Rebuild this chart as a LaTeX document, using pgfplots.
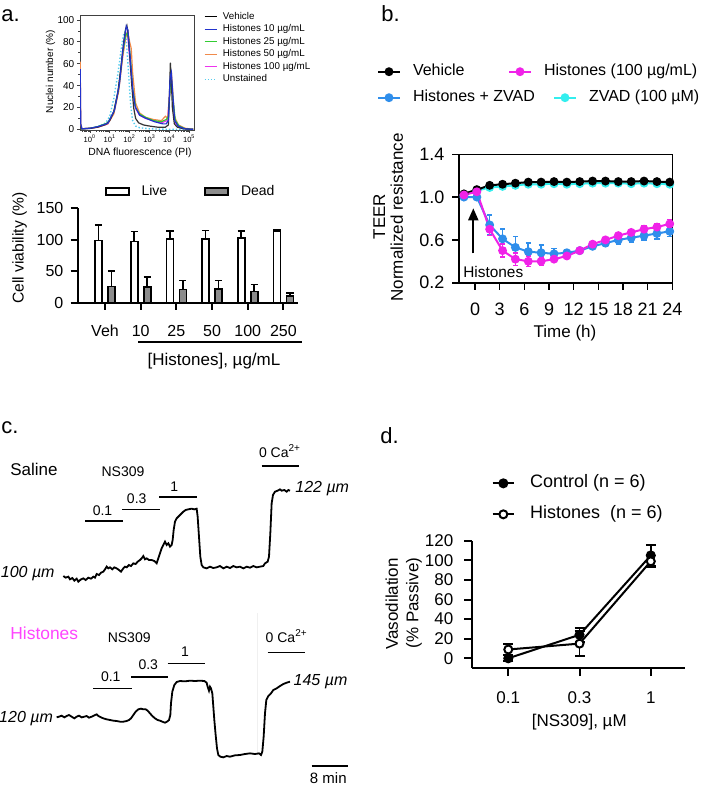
\documentclass[border=0pt]{standalone}
\usepackage{fontspec}
\setmainfont{Liberation Sans}
\usepackage{pgfplots}
\pgfplotsset{compat=1.18}
\usetikzlibrary{arrows.meta}

\definecolor{hblue}{HTML}{2233CC}
\definecolor{hgreen}{HTML}{33CC33}
\definecolor{horange}{HTML}{F08A4B}
\definecolor{hmag}{HTML}{EE33EE}
\definecolor{hcyan}{HTML}{55CCEE}
\definecolor{tmag}{HTML}{F022E8}
\definecolor{tblue}{HTML}{2F8EEB}
\definecolor{tcyan}{HTML}{33EEEE}
\definecolor{deadgray}{HTML}{8C8C8C}
\definecolor{cmag}{HTML}{FF44FF}

\newcommand{\fs}[1]{\fontsize{#1}{#1}\selectfont}

\pgfplotsset{
  boxleg/.style={legend image code/.code={\draw[##1] (0pt,-1.75pt) rectangle (11.5pt,1.75pt);}},
  legax/.style={hide axis, scale only axis, width=1pt, height=1pt,
    anchor=south west, xmin=0, xmax=1, ymin=0, ymax=1,
    legend style={at={(0,0)}, anchor=west, draw=none, fill=none,
      inner sep=0pt, outer sep=0pt, column sep=6pt, font=\fs{8},
      nodes={inner sep=0pt, text height=5.8pt, text depth=1.6pt}},
    legend image code/.code={\draw[mark repeat=2,mark phase=2,##1]
      plot coordinates {(0pt,0pt) (5.5pt,0pt) (11pt,0pt)};}},
  trace/.style={hide axis, scale only axis, anchor=north west, y dir=reverse,
    xmin=0, xmax=780, ymin=0, clip=false},
}

\begin{document}
\begin{tikzpicture}
\begin{scope}[x=0.5pt,y=-0.5pt]
\path[use as bounding box] (0,0) rectangle (709,787);
\coordinate (hSW) at (80,130);
\coordinate (bSW) at (77.7,302.7);
\coordinate (tSW) at (459,282.7);
\coordinate (dSW) at (472.3,668.1);
\coordinate (sNW) at (55,450);
\coordinate (xNW) at (55,620);
\coordinate (L1) at (377,71.7);
\coordinate (L2) at (508,71.7);
\coordinate (L3) at (377,97.7);
\coordinate (L4) at (553,97.7);

% panel a
\node[anchor=base west, inner sep=0pt, font=\fs{11}] at (1,21) {a.};
\node[rotate=90, inner sep=0pt, font=\fs{5}] at (50.5,71.7) {Nuclei number (\%)};
\node[inner sep=0pt, font=\fs{5.2}] at (140,152.5) {DNA fluorescence (PI)};
\node[rotate=90, inner sep=0pt, font=\fs{7.8}] at (19.5,248) {Cell viability (\%)};
\draw[line width=0.8pt] (138,341.7) -- (302,341.7);
\node[anchor=base, inner sep=0pt, font=\fs{8.5}] at (214,365) {[Histones], µg/mL};

% panel b
\node[anchor=base west, inner sep=0pt, font=\fs{11}] at (381,21.7) {b.};
\node[rotate=90, inner sep=0pt, font=\fs{8.5}] at (379.3,216.7) {TEER};
\node[rotate=90, inner sep=0pt, font=\fs{8.5}] at (396.7,217.3) {Normalized resistance};
\node[anchor=base, inner sep=0pt, font=\fs{8.5}] at (565,337) {Time (h)};
\draw[line width=1pt, -{Triangle[width=5pt,length=6pt]}] (473.3,253.3) -- (473.3,208.3);
\node[inner sep=0pt, font=\fs{7.7}] at (493.3,271.7) {Histones};

% panel c
\node[anchor=base west, inner sep=0pt, font=\fs{11}] at (1,433.3) {c.};
\node[anchor=base west, inner sep=0pt, font=\fs{8.5}] at (10,475) {Saline};
\node[anchor=base, inner sep=0pt, font=\fs{7}] at (123,476) {NS309};
\node[anchor=base, inner sep=0pt, font=\fs{7}] at (102.5,515) {0.1};
\node[anchor=base, inner sep=0pt, font=\fs{7}] at (136.7,503.3) {0.3};
\node[anchor=base, inner sep=0pt, font=\fs{7}] at (174.2,491) {1};
\node[anchor=base, inner sep=0pt, font=\fs{7}] at (280,457.7) {0 Ca\textsuperscript{2+}};
\draw[line width=0.8pt] (85,521) -- (123.3,521);
\draw[line width=0.8pt] (122.3,509.3) -- (160,509.3);
\draw[line width=0.8pt] (159,496.7) -- (196.7,496.7);
\draw[line width=0.8pt] (261.7,465.7) -- (299.3,465.7);
\node[anchor=base west, inner sep=0pt, font=\fs{8}\itshape] at (295,492.7) {122 µm};
\node[anchor=base east, inner sep=0pt, font=\fs{8}\itshape] at (55,577.3) {100 µm};

\node[anchor=base west, inner sep=0pt, font=\fs{8.7}, text=cmag] at (10,639.3) {Histones};
\node[anchor=base, inner sep=0pt, font=\fs{7}] at (129.2,642.7) {NS309};
\node[anchor=base, inner sep=0pt, font=\fs{7}] at (110.8,681.7) {0.1};
\node[anchor=base, inner sep=0pt, font=\fs{7}] at (148.3,669.3) {0.3};
\node[anchor=base, inner sep=0pt, font=\fs{7}] at (185,656.7) {1};
\node[anchor=base, inner sep=0pt, font=\fs{7}] at (286.7,642.7) {0 Ca\textsuperscript{2+}};
\draw[line width=0.8pt] (93.3,688.3) -- (131.7,688.3);
\draw[line width=0.8pt] (131,676.7) -- (168.3,676.7);
\draw[line width=0.8pt] (167.7,663.3) -- (205,663.3);
\draw[line width=0.8pt] (267.7,652.3) -- (305,652.3);
\draw[black!6, line width=0.4pt] (257,613) -- (257,755);
\node[anchor=base west, inner sep=0pt, font=\fs{8}\itshape] at (293.3,685.7) {145 µm};
\node[anchor=base east, inner sep=0pt, font=\fs{8}\itshape] at (53.3,722.3) {120 µm};
\draw[line width=1pt] (311.7,766) -- (348.3,766);
\node[anchor=base, inner sep=0pt, font=\fs{7.5}] at (328.3,783.3) {8 min};

% panel d
\node[anchor=base west, inner sep=0pt, font=\fs{11}] at (380,443.3) {d.};
\node[rotate=90, inner sep=0pt, font=\fs{8.5}] at (391.7,604) {Vasodilation};
\node[rotate=90, inner sep=0pt, font=\fs{8.5}] at (414,603) {(\% Passive)};
\node[anchor=base, inner sep=0pt, font=\fs{8.5}] at (579.3,726) {[NS309], µM};
\end{scope}

% ---- a: DNA histogram
\begin{axis}[at={(hSW)}, anchor=south west, scale only axis,
  width=57.5pt, height=57.5pt,
  xmin=-0.5, xmax=5.29, ymin=-0.6, ymax=104.6,
  axis line style={line width=0.5pt, black!75},
  tick align=outside, tick pos=left,
  major tick length=1.3pt, minor tick length=0.8pt,
  tick style={line width=0.4pt, black!75},
  xtick={0,1,2,3,4,5},
  xticklabels={10\textsuperscript{0},10\textsuperscript{1},10\textsuperscript{2},10\textsuperscript{3},10\textsuperscript{4},10\textsuperscript{5}},
  minor xtick={-0.398,-0.301,-0.222,-0.155,-0.097,-0.046,
    0.301,0.477,0.602,0.699,0.778,0.845,0.903,0.954,
    1.301,1.477,1.602,1.699,1.778,1.845,1.903,1.954,
    2.301,2.477,2.602,2.699,2.778,2.845,2.903,2.954,
    3.301,3.477,3.602,3.699,3.778,3.845,3.903,3.954,
    4.301,4.477,4.602,4.699,4.778,4.845,4.903,4.954},
  ytick={0,20,40,60,80,100}, minor ytick={10,30,50,70,90},
  yticklabel style={font=\fs{5}, anchor=east, inner sep=0pt, xshift=-1.4pt},
  xticklabel style={font=\fs{3.8}, anchor=base, yshift=-5pt, inner sep=0pt},
  /pgf/number format/assume math mode=true,
  legend style={at={(1.078,1.024)}, anchor=north west, draw=none, fill=none,
    inner sep=0pt, outer sep=0pt, font=\fs{4.9}, row sep=1.75pt, column sep=2.85pt,
    nodes={inner sep=0pt, text height=3.5pt, text depth=1pt}},
  legend cell align=left,
  legend image code/.code={\draw[#1] (0pt,0pt) -- (6pt,0pt);},
]
\addplot[hcyan, densely dotted, line width=0.7pt, forget plot] coordinates {
(-0.45,0) (0,1) (0.4,2.5) (0.8,6) (1.0,12) (1.2,28) (1.4,50) (1.55,70) (1.68,86) (1.76,89)
(1.84,80) (1.95,50) (2.05,22) (2.15,8) (2.3,3) (2.5,1.5) (3.0,0.5) (4.0,0) (5.2,0)};
\addplot[hmag, line width=0.6pt, forget plot] coordinates {
(-0.45,0.5) (0,1) (0.4,2) (0.9,5) (1.2,15) (1.45,38) (1.65,68) (1.82,88) (1.9,86) (2.02,62)
(2.15,36) (2.3,19) (2.5,13) (2.8,10) (3.2,8) (3.6,6) (3.9,8) (4.03,35) (4.1,42) (4.18,25)
(4.3,6) (4.5,2) (4.8,0.5) (5.2,0)};
\addplot[horange, line width=0.6pt, forget plot] coordinates {
(-0.49,62) (-0.46,5) (-0.4,0.5) (0,1) (0.4,2) (0.9,5) (1.2,14) (1.45,35) (1.65,66) (1.8,84)
(1.9,90) (2.0,80) (2.08,74) (2.15,52) (2.3,24) (2.5,15) (2.8,11) (3.2,9) (3.6,8) (3.8,12)
(3.92,10) (4.0,30) (4.1,53) (4.17,35) (4.25,12) (4.45,4) (4.8,1) (5.2,0)};
\addplot[hgreen, line width=0.6pt, forget plot] coordinates {
(-0.45,0.5) (0,1) (0.4,2.5) (0.9,6) (1.2,16) (1.45,38) (1.65,70) (1.8,86) (1.88,88) (1.95,82)
(2.05,62) (2.15,38) (2.3,20) (2.5,14) (2.8,11) (3.2,8) (3.6,7) (3.85,9) (3.95,12) (4.05,40)
(4.1,46) (4.18,28) (4.3,8) (4.5,3) (4.8,0.5) (5.2,0)};
\addplot[black!80, line width=0.6pt, forget plot] coordinates {
(-0.45,0.5) (0,0.8) (0.4,2) (0.8,4.5) (1.0,8) (1.2,16) (1.4,33) (1.55,55) (1.7,80) (1.8,92)
(1.86,95) (1.92,88) (2.0,68) (2.1,42) (2.2,20) (2.3,10) (2.45,6) (2.7,4) (3.0,3) (3.4,2)
(3.8,2) (3.95,4) (4.0,30) (4.05,61) (4.1,45) (4.15,20) (4.25,5) (4.4,2) (4.7,0.5) (5.2,0)};
\addplot[hblue, line width=0.6pt, forget plot] coordinates {
(-0.49,55) (-0.46,5) (-0.4,0.5) (0,1) (0.4,2.5) (0.9,5.5) (1.24,17.7) (1.49,42) (1.66,72.5)
(1.83,94.5) (1.91,91) (2.04,63) (2.16,36) (2.28,20.7) (2.5,13) (2.83,10) (3.25,7) (3.67,5)
(3.84,5) (3.95,8) (4.04,48) (4.1,52) (4.18,30) (4.27,8) (4.44,3) (4.77,0.5) (5.2,0)};
\addlegendimage{black, line width=0.6pt}\addlegendentry{Vehicle}
\addlegendimage{hblue, line width=0.6pt}\addlegendentry{Histones 10 µg/mL}
\addlegendimage{hgreen, line width=0.6pt}\addlegendentry{Histones 25 µg/mL}
\addlegendimage{horange, line width=0.6pt}\addlegendentry{Histones 50 µg/mL}
\addlegendimage{hmag, line width=0.6pt}\addlegendentry{Histones 100 µg/mL}
\addlegendimage{hcyan, densely dotted, line width=0.6pt}\addlegendentry{Unstained}
\end{axis}

% ---- a: viability bars (live at group-0.182, dead at group+0.182)
\begin{axis}[at={(bSW)}, anchor=south west, scale only axis,
  width=110pt, height=47.2pt,
  xmin=-0.766, xmax=5.40, ymin=0, ymax=150,
  axis lines*=left, axis line style={line width=1pt, -},
  tick align=outside, major tick length=3.5pt,
  tick style={line width=1pt, black},
  xtick={0,1,2,3,4,5}, xticklabels={Veh,10,25,50,100,250},
  ytick={0,50,100,150},
  tick label style={font=\fs{8}},
  xticklabel style={anchor=base, yshift=-13.2pt},
  yticklabel style={anchor=east, inner sep=0pt, xshift=-3.5pt},
  /pgf/number format/assume math mode=true,
  legend style={at={(0.124,1.176)}, anchor=west, draw=none, fill=none,
    inner sep=0pt, outer sep=0pt, font=\fs{7}, column sep=6pt,
    /tikz/every even column/.append style={column sep=18.6pt},
    nodes={inner sep=0pt, text height=5pt, text depth=1.4pt}},
  legend columns=2,
]
\addplot[ybar, bar width=3.5pt, bar shift=0pt, fill=white, draw=black, line width=0.8pt, boxleg,
  error bars/.cd, y dir=plus, y explicit,
  error bar style={line width=0.8pt, black},
  error mark options={rotate=90, mark size=1.8pt, line width=0.8pt, black}]
  coordinates {(-0.182,99) +- (0,24) (0.818,97) +- (0,16) (1.818,101) +- (0,13)
    (2.818,101) +- (0,14) (3.818,103) +- (0,11) (4.818,113) +- (0,3)};
\addlegendentry{Live}
\addplot[ybar, bar width=3.5pt, bar shift=0pt, fill=deadgray, draw=black, line width=0.8pt, boxleg,
  error bars/.cd, y dir=plus, y explicit,
  error bar style={line width=0.8pt, black},
  error mark options={rotate=90, mark size=1.8pt, line width=0.8pt, black}]
  coordinates {(0.182,26) +- (0,24) (1.182,25) +- (0,16) (2.182,21) +- (0,14)
    (3.182,22) +- (0,13) (4.182,18) +- (0,11) (5.182,11) +- (0,4)};
\addlegendentry{Dead}
\end{axis}

% ---- b: TEER
\begin{axis}[at={(tSW)}, anchor=south west, scale only axis,
  width=106.65pt, height=64.2pt,
  xmin=-1.95, xmax=24, ymin=0.2, ymax=1.4,
  axis line style={line width=0.8pt},
  tick align=outside, tick pos=left, major tick length=3.5pt,
  tick style={line width=0.8pt, black},
  xtick={0,3,...,24}, ytick={0.2,0.6,1.0,1.4}, yticklabels={0.2,0.6,1.0,1.4},
  tick label style={font=\fs{9}},
  xticklabel style={anchor=base, yshift=-12.8pt},
  yticklabel style={anchor=east, inner sep=0pt, xshift=-3.65pt},
  /pgf/number format/assume math mode=true,
  clip=false,
]
\addplot[tcyan, line width=1pt, mark=*, mark size=1.7pt] table {
t v
-1.35 1.02
0.22 1.06
1.78 1.09
3.35 1.10
4.91 1.11
6.48 1.12
8.04 1.12
9.61 1.125
11.17 1.12
12.74 1.125
14.30 1.13
15.87 1.13
17.43 1.13
19.00 1.125
20.56 1.13
22.13 1.125
23.69 1.12
};
\addplot[black, line width=1pt, mark=*, mark size=1.7pt] table {
t v
-1.35 1.03
0.22 1.07
1.78 1.11
3.35 1.12
4.91 1.13
6.48 1.14
8.04 1.14
9.61 1.145
11.17 1.14
12.74 1.145
14.30 1.15
15.87 1.15
17.43 1.145
19.00 1.145
20.56 1.15
22.13 1.145
23.69 1.14
};
\addplot[tblue, line width=1pt, mark=*, mark size=1.7pt,
  error bars/.cd, y dir=both, y explicit,
  error bar style={line width=0.8pt},
  error mark options={rotate=90, mark size=1.3pt, line width=0.8pt}]
  table[x=t, y=v, y error=e] {
t v e
-1.35 1.00 0.01
0.22 1.00 0.01
1.78 0.74 0.09
3.35 0.61 0.09
4.91 0.53 0.10
6.48 0.49 0.08
8.04 0.48 0.07
9.61 0.47 0.05
11.17 0.48 0.03
12.74 0.50 0.02
14.30 0.54 0.02
15.87 0.57 0.03
17.43 0.60 0.04
19.00 0.62 0.04
20.56 0.64 0.04
22.13 0.66 0.05
23.69 0.68 0.05
};
\addplot[tmag, line width=1pt, mark=*, mark size=1.7pt,
  error bars/.cd, y dir=both, y explicit,
  error bar style={line width=0.8pt},
  error mark options={rotate=90, mark size=1.3pt, line width=0.8pt}]
  table[x=t, y=v, y error=e] {
t v e
-1.35 1.02 0.01
0.22 1.05 0.01
1.78 0.70 0.06
3.35 0.50 0.06
4.91 0.42 0.06
6.48 0.40 0.05
8.04 0.40 0.04
9.61 0.42 0.02
11.17 0.45 0.02
12.74 0.50 0.02
14.30 0.56 0.02
15.87 0.60 0.02
17.43 0.64 0.02
19.00 0.67 0.02
20.56 0.70 0.03
22.13 0.72 0.03
23.69 0.75 0.04
};
\end{axis}

\begin{axis}[legax, at={(L1)}]
\addlegendimage{black, line width=1pt, mark=*, mark size=1.7pt}
\addlegendentry{Vehicle}
\end{axis}
\begin{axis}[legax, at={(L2)}]
\addlegendimage{tmag, line width=1pt, mark=*, mark size=1.7pt}
\addlegendentry{Histones (100 µg/mL)}
\end{axis}
\begin{axis}[legax, at={(L3)}]
\addlegendimage{tblue, line width=1pt, mark=*, mark size=1.7pt}
\addlegendentry{Histones + ZVAD}
\end{axis}
\begin{axis}[legax, at={(L4)}]
\addlegendimage{tcyan, line width=1pt, mark=*, mark size=1.7pt}
\addlegendentry{ZVAD (100 µM)}
\end{axis}

% ---- c: diameter traces
\begin{axis}[trace, at={(sNW)}, width=130pt, height=70pt, ymax=420]
\addplot[black, line width=0.9pt, no markers] coordinates {
(25,378) (32,383) (40,380) (45,388) (52,384) (58,392) (65,386) (70,395) (78,388) (85,385)
(92,390) (100,383) (108,386) (115,380) (120,383) (125,372) (132,375) (138,368) (145,365)
(150,358) (155,350) (160,355) (165,352) (172,358) (178,352) (185,355) (192,360) (198,365)
(205,355) (210,350) (215,352) (222,345) (228,348) (235,340) (242,342) (248,335) (255,330)
(260,325) (265,318) (270,328) (275,325) (282,330) (290,330) (298,333) (305,340) (310,325)
(315,310) (320,295) (325,285) (330,275) (335,285) (340,280) (345,290) (350,285) (353,270)
(356,240) (360,215) (365,205) (372,198) (378,192) (385,185) (392,180) (400,178) (410,176)
(418,178) (425,176) (428,200) (432,260) (436,320) (440,345) (445,352) (455,355) (465,350)
(475,354) (485,352) (495,348) (505,355) (515,350) (525,354) (535,348) (545,352) (555,350)
(565,355) (575,350) (585,353) (595,348) (605,352) (615,350) (625,348) (630,340) (638,335)
(642,320) (646,250) (650,160) (654,135) (660,125) (668,122) (675,118) (680,122) (688,120)
(695,125) (700,120) (705,122)};
\end{axis}

\begin{axis}[trace, at={(xNW)}, width=130pt, height=75pt, ymax=450]
\addplot[black, line width=0.9pt, no markers] coordinates {
(5,292) (12,290) (20,287) (28,292) (35,288) (42,285) (50,290) (58,295) (65,290) (72,287)
(80,292) (88,290) (95,288) (102,293) (110,290) (118,286) (125,283) (130,288) (138,292)
(145,295) (155,298) (165,300) (175,302) (185,303) (195,305) (205,305) (215,303) (222,300)
(228,295) (235,285) (242,275) (250,268) (258,266) (265,268) (272,268) (278,272) (285,280)
(292,288) (300,295) (308,300) (315,302) (322,305) (330,308) (336,305) (342,300) (346,285)
(348,250) (352,215) (358,195) (365,186) (375,183) (390,184) (405,182) (420,183) (435,182)
(448,183) (455,188) (458,200) (462,212) (465,200) (468,205) (472,220) (475,260) (478,300)
(482,345) (486,385) (490,405) (496,410) (505,412) (515,408) (525,410) (540,406) (555,405)
(570,402) (585,400) (600,402) (612,400) (618,405) (622,395) (626,350) (630,280) (634,240)
(640,228) (648,220) (655,210) (665,205) (675,198) (685,192) (695,188) (705,185)};
\end{axis}

% ---- d: vasodilation
\begin{axis}[at={(dSW)}, anchor=south west, scale only axis,
  width=106.35pt, height=63.7pt,
  xmin=-0.505, xmax=2.48, ymin=-10, ymax=120,
  axis lines*=left, axis line style={line width=1pt, -},
  tick align=outside, major tick length=4pt,
  tick style={line width=1pt, black},
  xtick={0,1,2}, xticklabels={0.1,0.3,1},
  ytick={0,20,40,60,80,100,120},
  tick label style={font=\fs{8.5}},
  xticklabel style={anchor=base, yshift=-13.45pt},
  yticklabel style={anchor=east, inner sep=0pt, xshift=-5.3pt},
  /pgf/number format/assume math mode=true,
  clip=false,
  legend style={at={(0.091,1.517)}, anchor=north west, draw=none, fill=none,
    inner sep=0pt, outer sep=0pt, font=\fs{9}, row sep=7pt, column sep=7.5pt,
    nodes={inner sep=0pt, text height=6.5pt, text depth=2pt}},
  legend cell align=left,
  legend image code/.code={\draw[mark repeat=2,mark phase=2,#1]
      plot coordinates {(0pt,0pt) (5.35pt,0pt) (10.7pt,0pt)};},
]
\addplot[black, line width=1pt, mark=*, mark size=2pt,
  error bars/.cd, y dir=both, y explicit,
  error bar style={line width=0.9pt},
  error mark options={rotate=90, mark size=2.5pt, line width=0.9pt}]
  coordinates {(0,0) +- (0,3) (1,24) +- (0,7) (2,105) +- (0,11)};
\addlegendentry{Control (n = 6)}
\addplot[black, line width=1pt, mark=*, mark size=2pt, mark options={fill=white},
  error bars/.cd, y dir=both, y explicit,
  error bar style={line width=0.9pt},
  error mark options={rotate=90, mark size=2.5pt, line width=0.9pt}]
  coordinates {(0,9) +- (0,6) (1,15) +- (0,13) (2,99) +- (0,6)};
\addlegendentry{Histones\ \ (n = 6)}
\end{axis}
\end{tikzpicture}
\end{document}
